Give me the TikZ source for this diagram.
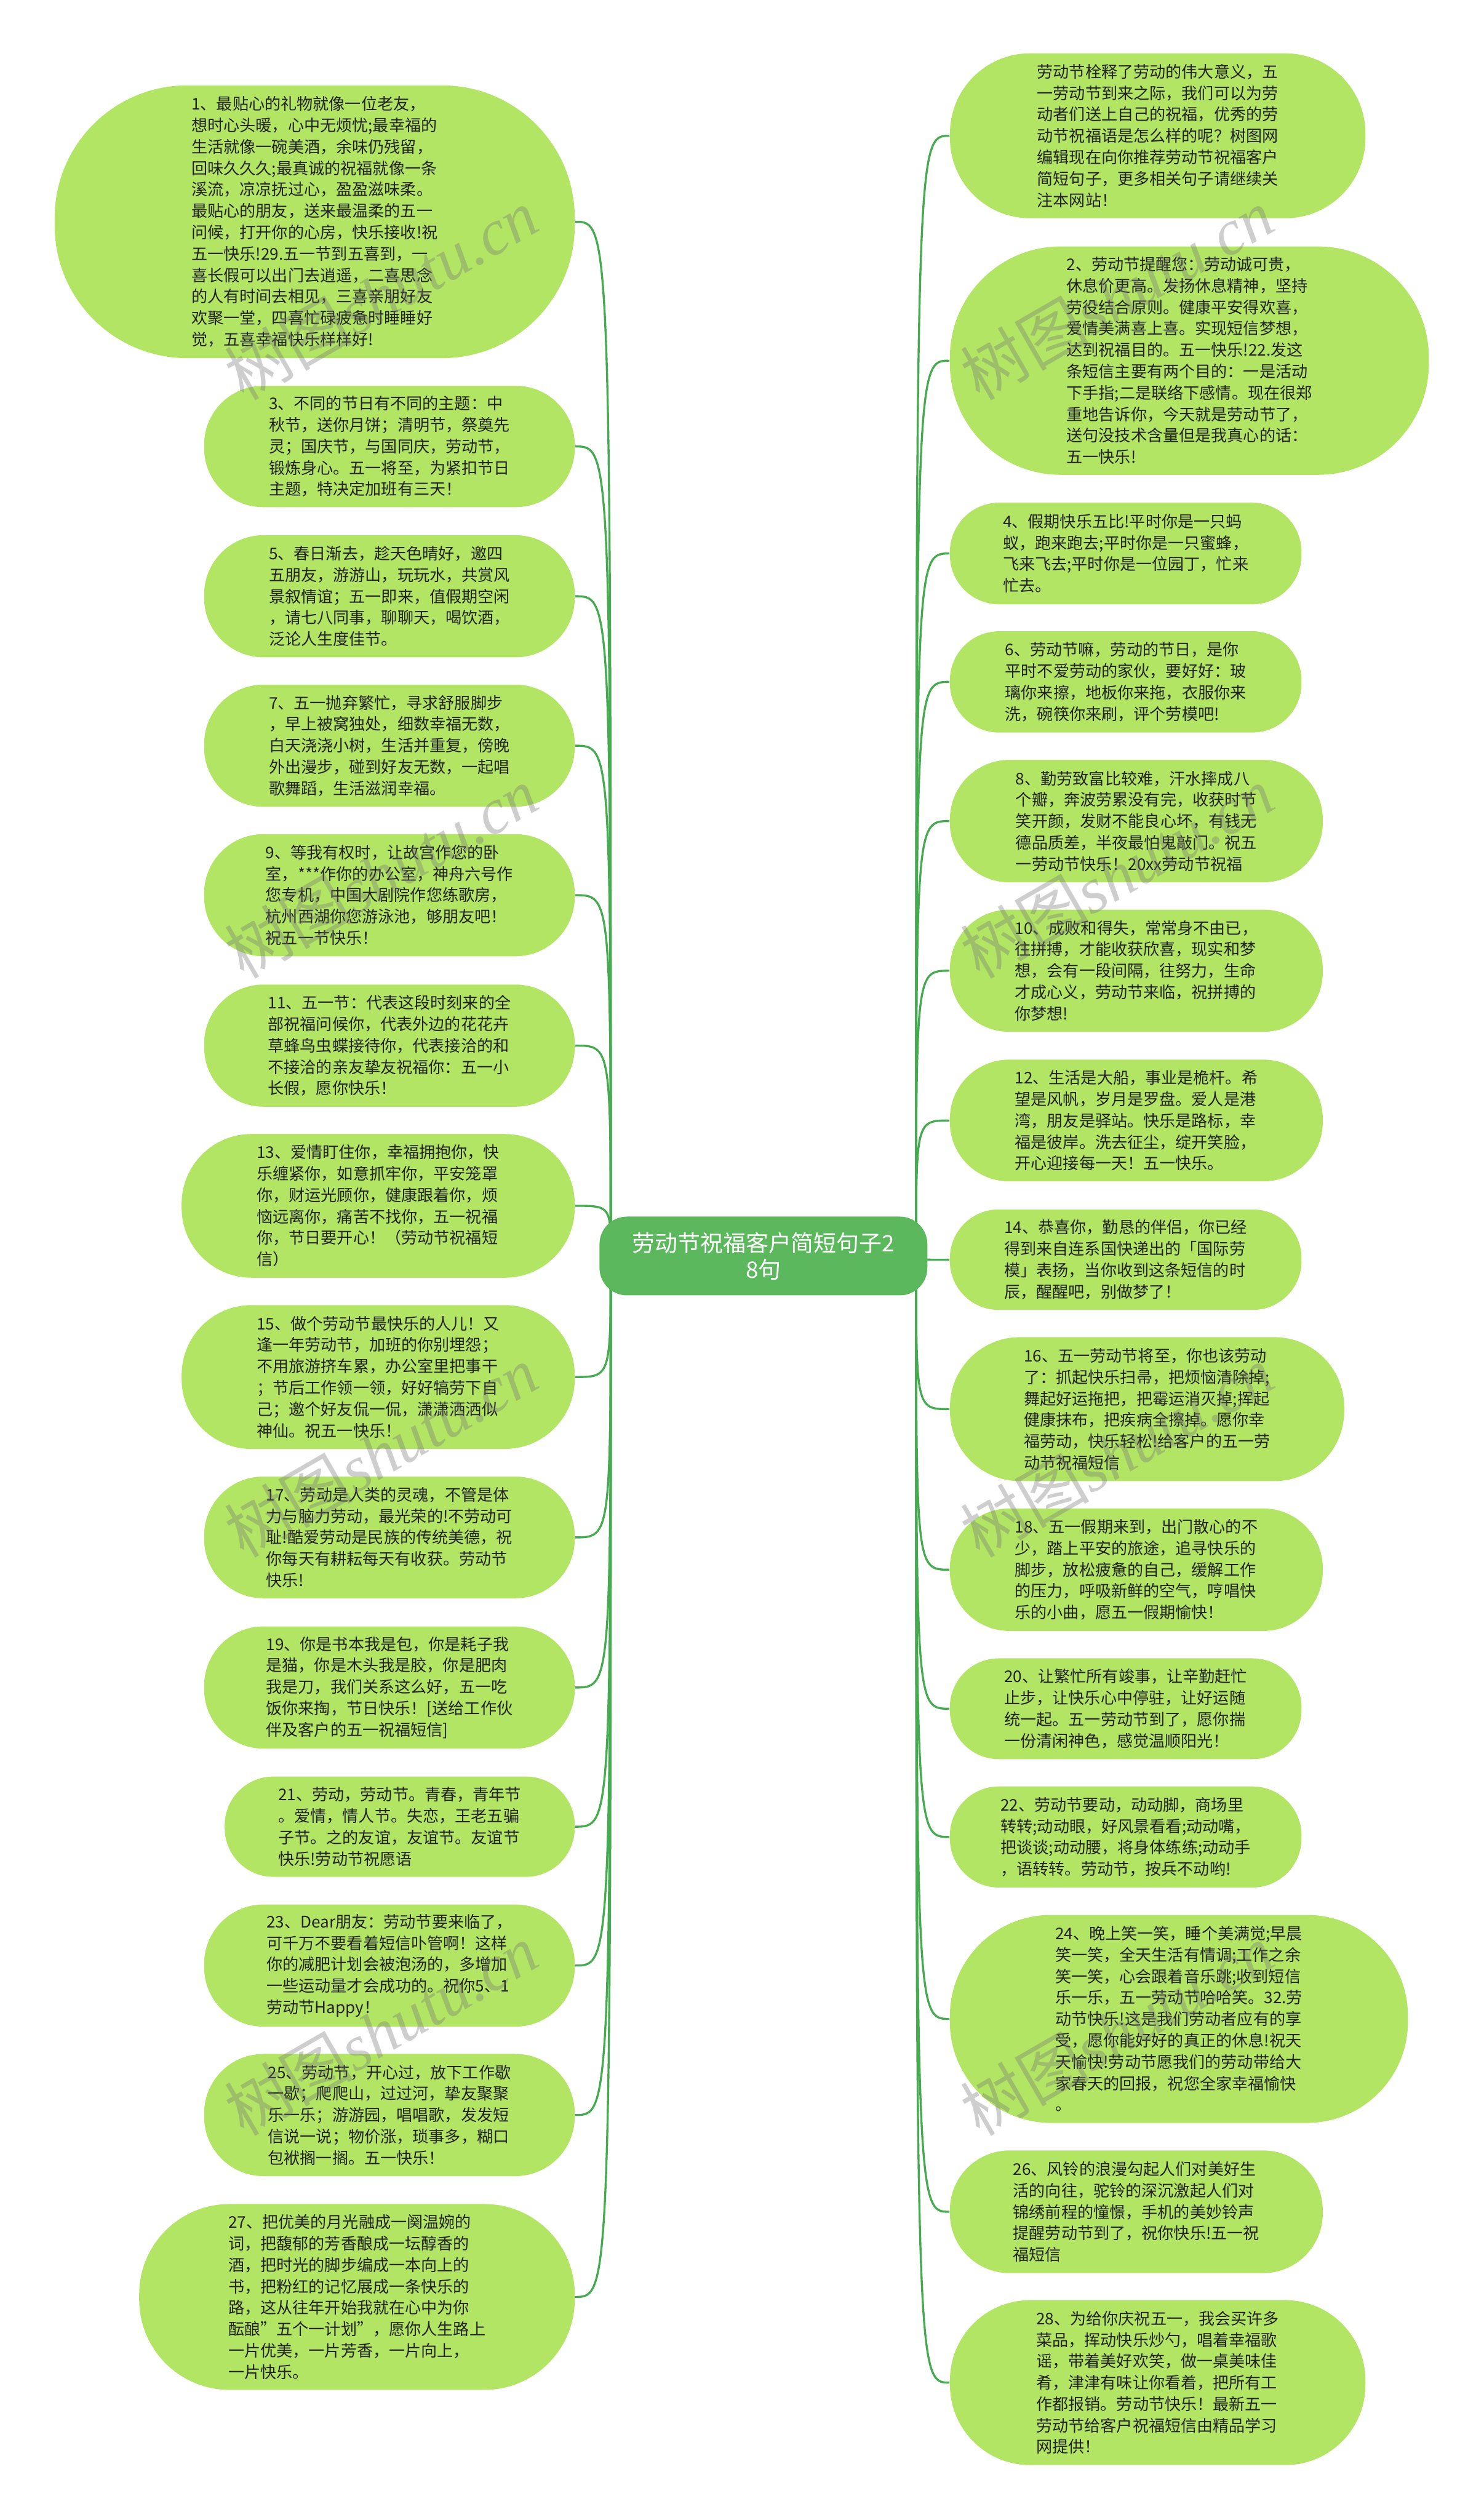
\documentclass[tikz,border=0pt]{standalone}
\usepackage{fontspec}
\setmainfont{Noto Sans CJK SC}
\newfontfamily\wmfont{Liberation Serif}
\definecolor{leafgreen}{RGB}{179,229,101}
\definecolor{rootgreen}{RGB}{92,184,92}
\definecolor{linegreen}{RGB}{70,170,80}
\definecolor{inkgray}{RGB}{34,34,34}
\tikzset{
	leaf/.style 2 args={fill=leafgreen, text=inkgray, align=left, inner sep=2pt,
		minimum width=#1*0.7pt, minimum height=#2*0.7pt, rounded corners=#2*0.34pt,
		font=\fontsize{7}{9.32}\selectfont},
	root/.style={fill=rootgreen, text=white, align=center, inner sep=2pt,
		minimum width=204*0.7pt, minimum height=49*0.7pt, rounded corners=12pt,
		font=\fontsize{9.9}{11.5}\selectfont},
	link/.style={draw=linegreen, line width=0.9pt,
		to path={.. controls (\tikztotarget |- \tikztostart) .. (\tikztotarget)}},
	wmark/.style={text=black!55, text opacity=0.35, rotate=30,
		font=\fontsize{28}{28}\selectfont},
}
\begin{document}
\begin{tikzpicture}[x=0.7pt,y=-0.7pt]
	\useasboundingbox (0,0) rectangle (923,1568);
	\coordinate (cl) at (380,782);
	\coordinate (cr) at (570,782);
	% left side
	\node (Q1) at (195.8,138) [leaf={323.6}{169.7}] {1、最贴心的礼物就像一位老友，\\想时心头暖，心中无烦忧;最幸福的\\生活就像一碗美酒，余味仍残留，\\回味久久久;最真诚的祝福就像一条\\溪流，凉凉抚过心，盈盈滋味柔。\\最贴心的朋友，送来最温柔的五一\\问候，打开你的心房，快乐接收!祝\\五一快乐!29.五一节到五喜到，一\\喜长假可以出门去逍遥，二喜思念\\的人有时间去相见，三喜亲朋好友\\欢聚一堂，四喜忙碌疲惫时睡睡好\\觉，五喜幸福快乐样样好!} edge [link] (cl);
	\node (Q3) at (242.3,277.8) [leaf={230.6}{75.5}] {3、不同的节日有不同的主题：中\\秋节，送你月饼；清明节，祭奠先\\灵；国庆节，与国同庆，劳动节，\\锻炼身心。五一将至，为紧扣节日\\主题，特决定加班有三天！} edge [link] (cl);
	\node (Q5) at (242.3,371) [leaf={230.6}{76}] {5、春日渐去，趁天色晴好，邀四\\五朋友，游游山，玩玩水，共赏风\\景叙情谊；五一即来，值假期空闲\\，请七八同事，聊聊天，喝饮酒，\\泛论人生度佳节。} edge [link] (cl);
	\node (Q7) at (242.3,464) [leaf={230.6}{76}] {7、五一抛弃繁忙，寻求舒服脚步\\，早上被窝独处，细数幸福无数，\\白天浇浇小树，生活并重复，傍晚\\外出漫步，碰到好友无数，一起唱\\歌舞蹈，生活滋润幸福。} edge [link] (cl);
	\node (Q9) at (242.3,557) [leaf={230.6}{76}] {9、等我有权时，让故宫作您的卧\\室，***作你的办公室，神舟六号作\\您专机，中国大剧院作您练歌房，\\杭州西湖你您游泳池，够朋友吧！\\祝五一节快乐！} edge [link] (cl);
	\node (Q11) at (242.3,650.6) [leaf={230.6}{76}] {11、五一节：代表这段时刻来的全\\部祝福问候你，代表外边的花花卉\\草蜂鸟虫蝶接待你，代表接洽的和\\不接洽的亲友挚友祝福你：五一小\\长假，愿你快乐！} edge [link] (cl);
	\node (Q13) at (235.3,750.3) [leaf={244.6}{89.4}] {13、爱情盯住你，幸福拥抱你，快\\乐缠紧你，如意抓牢你，平安笼罩\\你，财运光顾你，健康跟着你，烦\\恼远离你，痛苦不找你，五一祝福\\你，节日要开心！（劳动节祝福短\\信）} edge [link] (cl);
	\node (Q15) at (235.3,856.8) [leaf={244.6}{89.5}] {15、做个劳动节最快乐的人儿！又\\逢一年劳动节，加班的你别埋怨；\\不用旅游挤车累，办公室里把事干\\；节后工作领一领，好好犒劳下自\\己；邀个好友侃一侃，潇潇洒洒似\\神仙。祝五一快乐！} edge [link] (cl);
	\node (Q17) at (242.3,956.6) [leaf={230.6}{75.7}] {17、劳动是人类的灵魂，不管是体\\力与脑力劳动，最光荣的!不劳动可\\耻!酷爱劳动是民族的传统美德，祝\\你每天有耕耘每天有收获。劳动节\\快乐!} edge [link] (cl);
	\node (Q19) at (242.3,1050) [leaf={230.6}{76}] {19、你是书本我是包，你是耗子我\\是猫，你是木头我是胶，你是肥肉\\我是刀，我们关系这么好，五一吃\\饭你来掏，节日快乐！[送给工作伙\\伴及客户的五一祝福短信]} edge [link] (cl);
	\node (Q21) at (248.7,1136.6) [leaf={217.8}{62.4}] {21、劳动，劳动节。青春，青年节\\。爱情，情人节。失恋，王老五骗\\子节。之的友谊，友谊节。友谊节\\快乐!劳动节祝愿语} edge [link] (cl);
	\node (Q23) at (242.3,1223) [leaf={230.6}{76}] {23、Dear朋友：劳动节要来临了，\\可千万不要看着短信卟管啊！这样\\你的减肥计划会被泡汤的，多增加\\一些运动量才会成功的。祝你5、1\\劳动节Happy！} edge [link] (cl);
	\node (Q25) at (242.3,1316) [leaf={230.6}{76}] {25、劳动节，开心过，放下工作歇\\一歇；爬爬山，过过河，挚友聚聚\\乐一乐；游游园，唱唱歌，发发短\\信说一说；物价涨，琐事多，糊口\\包袱搁一搁。五一快乐！} edge [link] (cl);
	\node (Q27) at (222.1,1429.2) [leaf={271}{115.6}] {27、把优美的月光融成一阕温婉的\\词，把馥郁的芳香酿成一坛醇香的\\酒，把时光的脚步编成一本向上的\\书，把粉红的记忆展成一条快乐的\\路，这从往年开始我就在心中为你\\酝酿"五个一计划"，愿你人生路上\\一片优美，一片芳香，一片向上，\\一片快乐。} edge [link] (cl);
	% right side
	\node (In) at (720.3,84.5) [leaf={258.5}{102.6}] {劳动节栓释了劳动的伟大意义，五\\一劳动节到来之际，我们可以为劳\\动者们送上自己的祝福，优秀的劳\\动节祝福语是怎么样的呢？树图网\\编辑现在向你推荐劳动节祝福客户\\简短句子，更多相关句子请继续关\\注本网站！} edge [link] (cr);
	\node (Q2) at (740,224.4) [leaf={298}{142.1}] {2、劳动节提醒您：劳动诚可贵，\\休息价更高。发扬休息精神，坚持\\劳役结合原则。健康平安得欢喜，\\爱情美满喜上喜。实现短信梦想，\\达到祝福目的。五一快乐!22.发这\\条短信主要有两个目的：一是活动\\下手指;二是联络下感情。现在很郑\\重地告诉你，今天就是劳动节了，\\送句没技术含量但是我真心的话：\\五一快乐!} edge [link] (cr);
	\node (Q4) at (700.4,344.4) [leaf={218.8}{63.3}] {4、假期快乐五比!平时你是一只蚂\\蚁，跑来跑去;平时你是一只蜜蜂，\\飞来飞去;平时你是一位园丁，忙来\\忙去。} edge [link] (cr);
	\node (Q6) at (700.4,424.3) [leaf={218.8}{63}] {6、劳动节嘛，劳动的节日，是你\\平时不爱劳动的家伙，要好好：玻\\璃你来擦，地板你来拖，衣服你来\\洗，碗筷你来刷，评个劳模吧!} edge [link] (cr);
	\node (Q8) at (707,510.9) [leaf={232}{76.2}] {8、勤劳致富比较难，汗水摔成八\\个瓣，奔波劳累没有完，收获时节\\笑开颜，发财不能良心坏，有钱无\\德品质差，半夜最怕鬼敲门。祝五\\一劳动节快乐！20xx劳动节祝福} edge [link] (cr);
	\node (Q10) at (707,604) [leaf={232}{76}] {10、成败和得失，常常身不由已，\\往拼搏，才能收获欣喜，现实和梦\\想，会有一段间隔，往努力，生命\\才成心义，劳动节来临，祝拼搏的\\你梦想!} edge [link] (cr);
	\node (Q12) at (707,697.2) [leaf={232}{75.7}] {12、生活是大船，事业是桅杆。希\\望是风帆，岁月是罗盘。爱人是港\\湾，朋友是驿站。快乐是路标，幸\\福是彼岸。洗去征尘，绽开笑脸，\\开心迎接每一天！五一快乐。} edge [link] (cr);
	\node (Q14) at (700.4,783.8) [leaf={218.8}{62.5}] {14、恭喜你，勤恳的伴侣，你已经\\得到来自连系国快递出的「国际劳\\模」表扬，当你收到这条短信的时\\辰，醒醒吧，别做梦了！} edge [link] (cr);
	\node (Q16) at (713.7,876.8) [leaf={245.3}{89.6}] {16、五一劳动节将至，你也该劳动\\了：抓起快乐扫帚，把烦恼清除掉;\\舞起好运拖把，把霉运消灭掉;挥起\\健康抹布，把疾病全擦掉。愿你幸\\福劳动，快乐轻松!给客户的五一劳\\动节祝福短信} edge [link] (cr);
	\node (Q18) at (707,976.7) [leaf={232}{76.2}] {18、五一假期来到，出门散心的不\\少，踏上平安的旅途，追寻快乐的\\脚步，放松疲惫的自己，缓解工作\\的压力，呼吸新鲜的空气，哼唱快\\乐的小曲，愿五一假期愉快！} edge [link] (cr);
	\node (Q20) at (700.4,1063.2) [leaf={218.8}{62.7}] {20、让繁忙所有竣事，让辛勤赶忙\\止步，让快乐心中停驻，让好运随\\统一起。五一劳动节到了，愿你揣\\一份清闲神色，感觉温顺阳光！} edge [link] (cr);
	\node (Q22) at (700.4,1143) [leaf={218.8}{62.9}] {22、劳动节要动，动动脚，商场里\\转转;动动眼，好风景看看;动动嘴，\\把谈谈;动动腰，将身体练练;动动手\\，语转转。劳动节，按兵不动哟!} edge [link] (cr);
	\node (Q24) at (733.5,1256.2) [leaf={285}{129.4}] {24、晚上笑一笑，睡个美满觉;早晨\\笑一笑，全天生活有情调;工作之余\\笑一笑，心会跟着音乐跳;收到短信\\乐一乐，五一劳动节哈哈笑。32.劳\\动节快乐!这是我们劳动者应有的享\\受，愿你能好好的真正的休息!祝天\\天愉快!劳动节愿我们的劳动带给大\\家春天的回报，祝您全家幸福愉快\\。} edge [link] (cr);
	\node (Q26) at (707,1376.2) [leaf={232}{76.3}] {26、风铃的浪漫勾起人们对美好生\\活的向往，驼铃的深沉激起人们对\\锦绣前程的憧憬，手机的美妙铃声\\提醒劳动节到了，祝你快乐!五一祝\\福短信} edge [link] (cr);
	\node (Q28) at (720.3,1482.5) [leaf={258.5}{102.6}] {28、为给你庆祝五一，我会买许多\\菜品，挥动快乐炒勺，唱着幸福歌\\谣，带着美好欢笑，做一桌美味佳\\肴，津津有味让你看着，把所有工\\作都报销。劳动节快乐！最新五一\\劳动节给客户祝福短信由精品学习\\网提供！} edge [link] (cr);
	% centre
	\node (Ce) at (475,781.5) [root] {劳动节祝福客户简短句子2\\8句};
	% watermarks
	\node (W1) at (237,183) [wmark] {树图{\wmfont\itshape shutu.cn}};
	\node (W2) at (237,543) [wmark] {树图{\wmfont\itshape shutu.cn}};
	\node (W3) at (237,903) [wmark] {树图{\wmfont\itshape shutu.cn}};
	\node (W4) at (237,1263) [wmark] {树图{\wmfont\itshape shutu.cn}};
	\node (W5) at (237,1623) [wmark] {树图{\wmfont\itshape shutu.cn}};
	\node (W6) at (695,183) [wmark] {树图{\wmfont\itshape shutu.cn}};
	\node (W7) at (695,543) [wmark] {树图{\wmfont\itshape shutu.cn}};
	\node (W8) at (695,903) [wmark] {树图{\wmfont\itshape shutu.cn}};
	\node (W9) at (695,1263) [wmark] {树图{\wmfont\itshape shutu.cn}};
\end{tikzpicture}
\end{document}
